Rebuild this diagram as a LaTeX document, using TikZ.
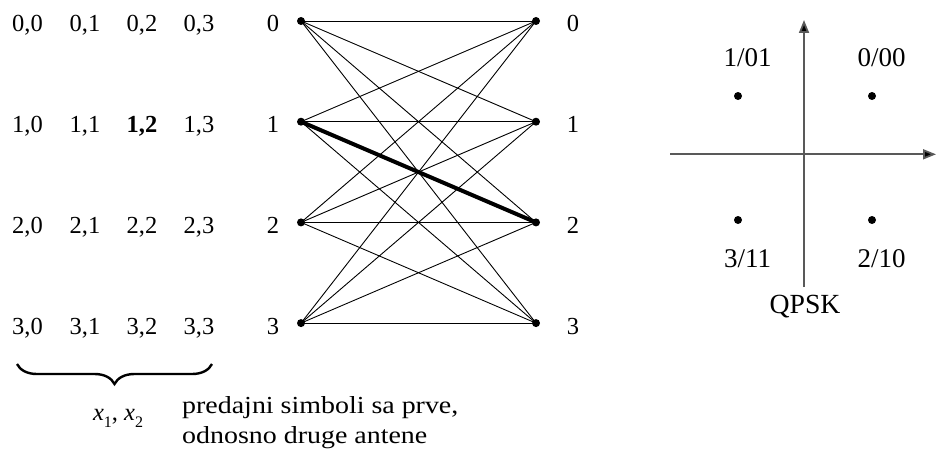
\documentclass[tikz,border=0pt]{standalone}
\usepackage{fontspec}
\setmainfont{Liberation Serif}
\usetikzlibrary{arrows.meta,decorations.pathreplacing}
\begin{document}
\begin{tikzpicture}[x=1pt,y=-1pt,
  txt/.style={font=\fontsize{24.5}{29}\selectfont, inner sep=0pt, anchor=base},
  ctxt/.style={font=\fontsize{27}{32}\selectfont, inner sep=0pt, anchor=base},
  dot/.style={circle, fill=black, inner sep=0pt, minimum size=8pt},
  edge/.style={line width=0.9pt},
  bold edge/.style={line width=4pt},
  axis/.style={draw=black!65, line width=1.8pt, -{Triangle[length=13pt,width=10pt,fill=black]}},
  cdot/.style={circle, fill=black, inner sep=0pt, minimum size=8pt}]
\useasboundingbox (0,0) rectangle (936,452);
% symbol pairs matrix
\foreach \r in {0,...,3}{
  \foreach \c/\xx in {0/27.5,1/85,2/142,3/199}{
    \ifnum\r=1 \ifnum\c=2
      \node[txt] (m\r\c) at (\xx,{32+100.7*\r}) {\textbf{\r,\c}};
    \else
      \node[txt] (m\r\c) at (\xx,{32+100.7*\r}) {\r,\c};
    \fi\else
      \node[txt] (m\r\c) at (\xx,{32+100.7*\r}) {\r,\c};
    \fi
  }
  \node[txt] (ln\r) at (273,{32+100.7*\r}) {\r};
  \node[txt] (rn\r) at (573,{32+100.7*\r}) {\r};
  \node[dot] (L\r) at (301,{21+100.7*\r}) {};
  \node[dot] (R\r) at (536,{21+100.7*\r}) {};
}
% trellis edges
\foreach \i in {0,...,3}{
  \foreach \j in {0,...,3}{
    \draw[edge] (L\i.center) -- (R\j.center);
  }
}
\draw[bold edge] (L1.center) -- (R2.center);
% brace
\coordinate (bl) at (17,364);
\coordinate (br) at (212,364);
\draw[decorate, decoration={brace, mirror, amplitude=20pt}, line width=2.4pt] (bl) -- (br);
\node[txt] (xlab) at (118,420) {\textit{x}\raisebox{-0.3em}{\fontsize{16}{18}\selectfont 1}, \textit{x}\raisebox{-0.3em}{\fontsize{16}{18}\selectfont 2}};
\node[txt, anchor=base west] (desc1) at (182,413) {\scalebox{1.14}[1]{predajni simboli sa prve,}};
\node[txt, anchor=base west] (desc2) at (182,443) {\scalebox{1.14}[1]{odnosno druge antene}};
% QPSK constellation
\coordinate (vb) at (804,287);
\coordinate (vt) at (804,20);
\coordinate (hl) at (670,154.3);
\coordinate (hr) at (936,154.3);
\draw[axis] (vb) -- (vt);
\draw[axis] (hl) -- (hr);
\node[cdot] (q1) at (738,96) {};
\node[cdot] (q0) at (872,96) {};
\node[cdot] (q3) at (738,220) {};
\node[cdot] (q2) at (872,220) {};
\node[ctxt] (l1) at (747.5,66.7) {1/01};
\node[ctxt] (l0) at (881.7,66.7) {0/00};
\node[ctxt] (l3) at (747.5,267) {3/11};
\node[ctxt] (l2) at (881.7,267) {2/10};
\node[ctxt, font=\fontsize{27.7}{32}\selectfont] (qpsk) at (805,313) {QPSK};
\end{tikzpicture}
\end{document}
